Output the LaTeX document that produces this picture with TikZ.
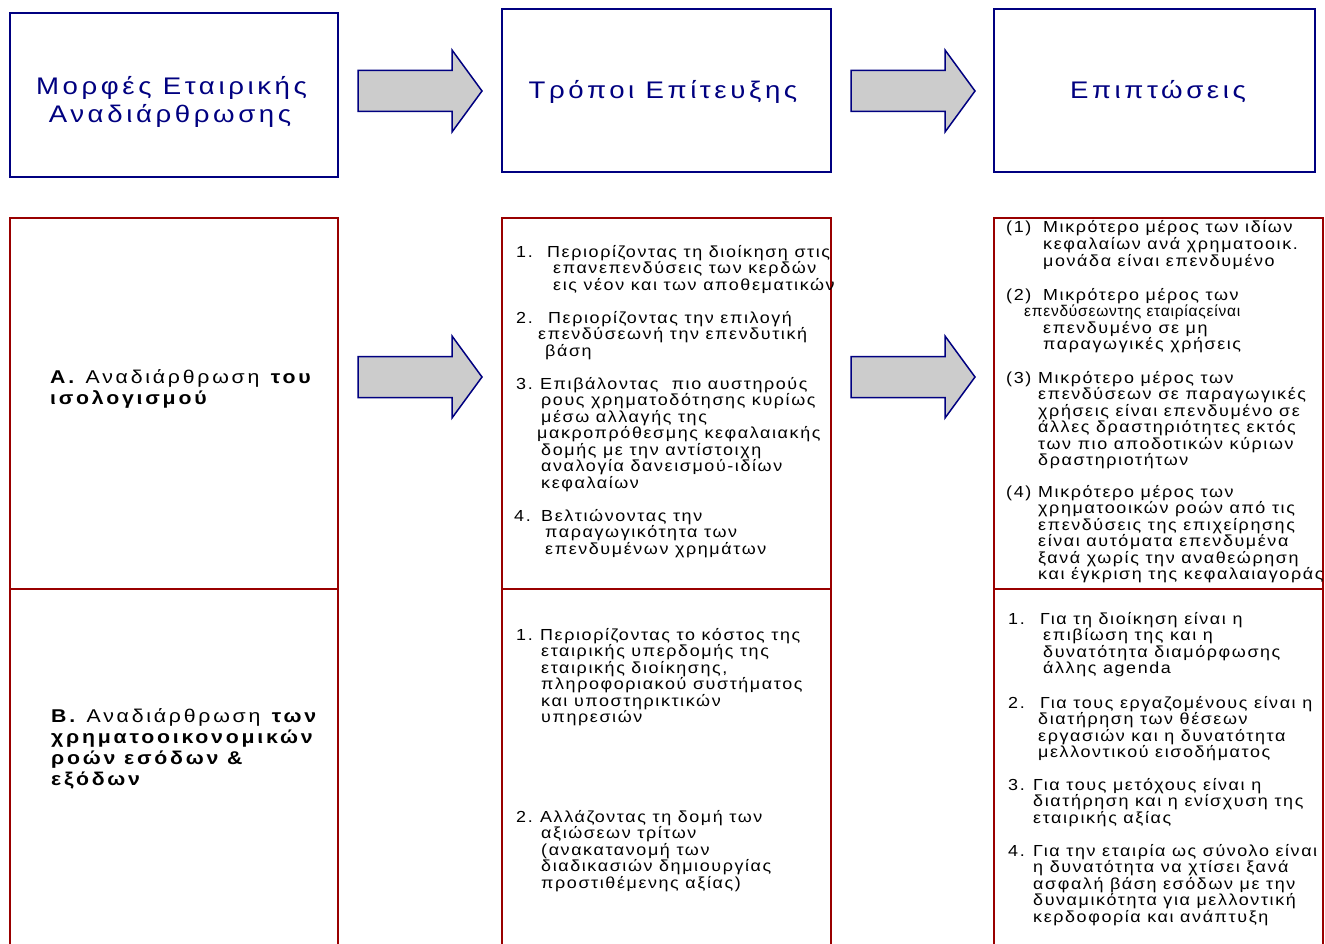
\documentclass[tikz,border=0pt]{standalone}
\usepackage{fontspec}
\setmainfont{Liberation Sans}
\newfontfamily\hfont[FakeStretch=1.15,LetterSpace=15]{Liberation Sans}
\newfontfamily\bfont[FakeStretch=1.12,LetterSpace=10]{Liberation Sans}
\newfontfamily\lfont[FakeStretch=1.15,LetterSpace=15]{Liberation Sans}
\newfontfamily\cfont[LetterSpace=5]{Liberation Sans}
\definecolor{navy}{HTML}{000080}
\definecolor{dred}{HTML}{990000}
\definecolor{agray}{HTML}{CCCCCC}
\newcommand\nb[2]{\makebox[#1pt][l]{#2}}
\newcommand\txtlines[3]{%
  \foreach \lx/\lt [count=\li] in {#3}{%
    \node[bodytxt] (#1-\li) at ({\lx},{#2+(\li-1)*16.5}) {\lt};
  }%
}
\tikzset{
  hbox/.style={draw=navy, line width=1.5pt, fill=white, inner sep=0},
  rbox/.style={draw=dred, line width=1.6pt, inner sep=0},
  htxt/.style={font=\hfont\fontsize{24}{28}\selectfont, text=navy, anchor=base, inner sep=0},
  ltxt/.style={font=\lfont\fontsize{18.5}{21}\selectfont, anchor=base west, inner sep=0},
  bodytxt/.style={font=\bfont\fontsize{16}{16.5}\selectfont, anchor=base west, inner sep=0},
  blockarrow/.style={draw=navy, line width=1.5pt, fill=agray, line join=miter},
  barrow/.pic={\draw[blockarrow] (0,-20.5) -- (94,-20.5) -- (94,-41) -- (124,0) -- (94,41) -- (94,20.5) -- (0,20.5) -- cycle;}
}
\begin{document}
\begin{tikzpicture}[x=1pt,y=-1pt]
\useasboundingbox (0,0) rectangle (1325,944);
\clip (0,0) rectangle (1325,944);
\fill[white] (0,0) rectangle (1325,944);

% header boxes
\node[hbox, minimum width=328, minimum height=164] (h1) at (174,95) {};
\node[hbox, minimum width=329, minimum height=163] (h2) at (666.5,90.5) {};
\node[hbox, minimum width=321, minimum height=163] (h3) at (1154.5,90.5) {};
\node[htxt] (h1a) at (171.5,94.3) {Μορφές Εταιρικής};
\node[htxt] (h1b) at (170,122.7) {Αναδιάρθρωσης};
\node[htxt] (h2a) at (663,99) {Τρόποι Επίτευξης};
\node[htxt] (h3a) at (1158,99) {Επιπτώσεις};

% block arrows
\pic at (358,91) {barrow};
\pic at (851,91) {barrow};
\pic at (358,377) {barrow};
\pic at (851,377) {barrow};

% lower boxes
\node[rbox, minimum width=328, minimum height=371] (a1) at (174,403.5) {};
\node[rbox, minimum width=329, minimum height=371] (a2) at (666.5,403.5) {};
\node[rbox, minimum width=329, minimum height=371] (a3) at (1158.5,403.5) {};
\node[rbox, minimum width=328, minimum height=371] (b1) at (174,774.5) {};
\node[rbox, minimum width=329, minimum height=371] (b2) at (666.5,774.5) {};
\node[rbox, minimum width=329, minimum height=371] (b3) at (1158.5,774.5) {};

% left column
\node[ltxt] (la1) at (50,383) {\textbf{Α.} Αναδιάρθρωση \textbf{του}};
\node[ltxt] (la2) at (50,404) {\textbf{ισολογισμού}};
\node[ltxt] (lb1) at (51,722) {\textbf{Β.} Αναδιάρθρωση \textbf{των}};
\node[ltxt] (lb2) at (51,743) {\textbf{χρηματοοικονομικών}};
\node[ltxt] (lb3) at (51,764) {\textbf{ροών εσόδων \&}};
\node[ltxt] (lb4) at (51,785) {\textbf{εξόδων}};

% middle upper
\txtlines{ma1}{257}{516/{\nb{31}{1.}Περιορίζοντας τη διοίκηση στις},553/επανεπενδύσεις των κερδών,553/εις νέον και των αποθεματικών}
\txtlines{ma2}{323}{516/{\nb{32}{2.}Περιορίζοντας την επιλογή},538/επενδύσεωνή την επενδυτική,545/βάση}
\txtlines{ma3}{389}{516/{\nb{24}{3.}Επιβάλοντας\ \ πιο αυστηρούς},541/ρους χρηματοδότησης κυρίως,541/μέσω αλλαγής της,537/μακροπρόθεσμης κεφαλαιακής,541/δομής με την αντίστοιχη,541/αναλογία δανεισμού-ιδίων,541/κεφαλαίων}
\txtlines{ma4}{521}{514/{\nb{27}{4.}Βελτιώνοντας την},545/παραγωγικότητα των,545/επενδυμένων χρημάτων}

% middle lower
\txtlines{mb1}{640}{516/{\nb{24}{1.}Περιορίζοντας το κόστος της},541/εταιρικής υπερδομής της,541/{εταιρικής διοίκησης,},541/πληροφοριακού συστήματος,541/και υποστηρικτικών,541/υπηρεσιών}
\txtlines{mb2}{822}{516/{\nb{24}{2.}Αλλάζοντας τη δομή των},541/αξιώσεων τρίτων,541/(ανακατανομή των,541/διαδικασιών δημιουργίας,541/προστιθέμενης αξίας)}

% right upper
\txtlines{ra1}{233}{1006/{\nb{37}{(1)}Μικρότερο μέρος των ιδίων},1043/κεφαλαίων ανά χρηματοοικ.,1043/μονάδα είναι επενδυμένο}
\txtlines{ra2}{300}{1006/{\nb{37}{(2)}Μικρότερο μέρος των},1024/{{\cfont\fontsize{15.5}{16}\selectfont επενδύσεωντης εταιρίαςείναι}},1043/επενδυμένο σε μη,1043/παραγωγικές χρήσεις}
\txtlines{ra3}{383}{1006/{\nb{32}{(3)}Μικρότερο μέρος των},1038/επενδύσεων σε παραγωγικές,1038/χρήσεις είναι επενδυμένο σε,1038/άλλες δραστηριότητες εκτός,1038/των πιο αποδοτικών κύριων,1038/δραστηριοτήτων}
\txtlines{ra4}{497}{1006/{\nb{32}{(4)}Μικρότερο μέρος των},1038/χρηματοοικών ροών από τις,1038/επενδύσεις της επιχείρησης,1038/είναι αυτόματα επενδυμένα,1038/ξανά χωρίς την αναθεώρηση,1038/και έγκριση της κεφαλαιαγοράς}

% right lower
\txtlines{rb1}{624}{1008/{\nb{32}{1.}Για τη διοίκηση είναι η},1043/επιβίωση της και η,1043/δυνατότητα διαμόρφωσης,1043/άλλης agenda}
\txtlines{rb2}{708}{1008/{\nb{32}{2.}Για τους εργαζομένους είναι η},1038/διατήρηση των θέσεων,1038/εργασιών και η δυνατότητα,1038/μελλοντικού εισοδήματος}
\txtlines{rb3}{790}{1008/{\nb{25}{3.}Για τους μετόχους είναι η},1033/διατήρηση και η ενίσχυση της,1033/εταιρικής αξίας}
\txtlines{rb4}{856}{1008/{\nb{25}{4.}Για την εταιρία ως σύνολο είναι},1033/η δυνατότητα να χτίσει ξανά,1033/ασφαλή βάση εσόδων με την,1033/δυναμικότητα για μελλοντική,1033/κερδοφορία και ανάπτυξη}
\end{tikzpicture}
\end{document}
